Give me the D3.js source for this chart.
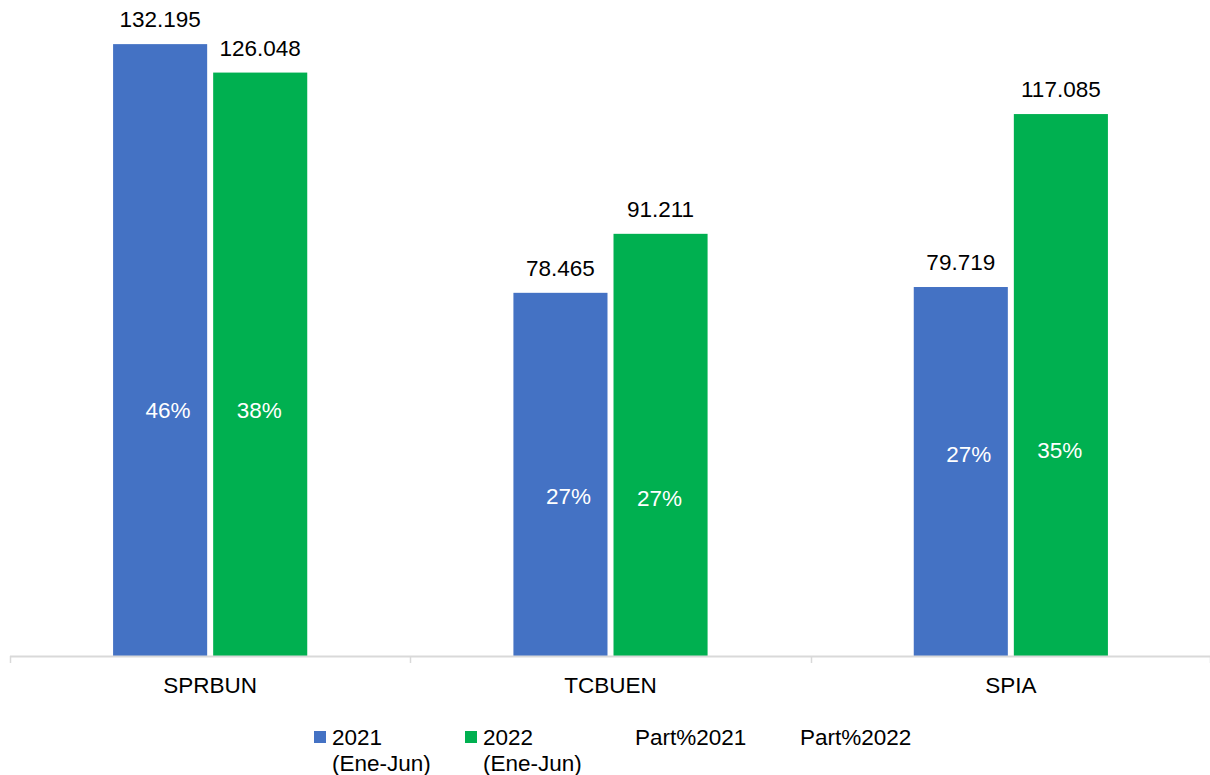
<!DOCTYPE html>
<html lang="es">
<head>
    <meta charset="UTF-8">
    <title>Participación por programa</title>
    <script src="https://d3js.org/d3.v7.min.js"></script>
    <style>
        body { margin: 0; background: #fff; }
        text { font-family: "Liberation Sans", Arial, sans-serif; }
    </style>
</head>
<body>
<div id="grafico"></div>

<script>
  // DATOS //
  var categorias = ["SPRBUN", "TCBUEN", "SPIA"];
  var series = ["2021 (Ene-Jun)", "2022 (Ene-Jun)"];
  var valores2021 = [132195, 78465, 79719];
  var valores2022 = [126048, 91211, 117085];
  // participacion % (serie oculta: etiqueta y altura donde se lee en el grafico)
  var part2021 = [0.46, 0.27, 0.27];
  var part2022 = [0.38, 0.27, 0.35];
  var altPart2021 = [53150, 34500, 43600];
  var altPart2022 = [53150, 34100, 44400];
  var leyenda = ["2021\n(Ene-Jun)", "2022\n(Ene-Jun)", "Part%2021", "Part%2022"];

  var colores = ["#4472C4", "#00B050"];

  // DIMENSIONES //
  var ancho = 1210, alto = 775;
  var area = {izq: 10, der: 1211, arriba: 8, abajo: 656};

  var svg = d3.select("#grafico")
    .append("svg")
      .attr("width", ancho)
      .attr("height", alto);

  var es = d3.formatLocale({decimal: ",", thousands: ".", grouping: [3], currency: ["$", ""]});
  var fmtNum = es.format(",");
  var fmtPct = d3.format(".0%");

  // ESCALAS //
  var x0 = d3.scaleBand()
    .domain(categorias)
    .range([area.izq, area.der]);

  var bw = x0.bandwidth();
  var margenGrupo = bw * 0.2575;
  var x1 = d3.scaleBand()
    .domain(series)
    .range([margenGrupo, bw - margenGrupo])
    .paddingInner(0.06);

  var y = d3.scaleLinear()
    .domain([0, 140000])
    .range([area.abajo, area.arriba]);

  var filas = categorias.map(function(c, i) {
    return [
      {cat: c, serie: series[0], v: valores2021[i], part: part2021[i], alt: altPart2021[i], k: 0},
      {cat: c, serie: series[1], v: valores2022[i], part: part2022[i], alt: altPart2022[i], k: 1}
    ];
  });

  // BARRAS //
  var grupos = svg.selectAll(".grupo")
    .data(filas)
    .enter().append("g")
      .attr("class", "grupo")
      .attr("transform", function(d) { return "translate(" + x0(d[0].cat) + ",0)"; });

  grupos.selectAll("rect")
    .data(function(d) { return d; })
    .enter().append("rect")
      .attr("x", function(d) { return x1(d.serie); })
      .attr("y", function(d) { return y(d.v); })
      .attr("width", x1.bandwidth())
      .attr("height", function(d) { return y(0) - y(d.v); })
      .attr("fill", function(d) { return colores[d.k]; });

  // etiquetas de valor
  grupos.selectAll(".valor")
    .data(function(d) { return d; })
    .enter().append("text")
      .attr("class", "valor")
      .attr("x", function(d) { return x1(d.serie) + x1.bandwidth() / 2; })
      .attr("y", function(d) { return y(d.v) - 17; })
      .attr("text-anchor", "middle")
      .style("font-size", "22.5px")
      .attr("fill", "#000")
      .text(function(d) { return fmtNum(d.v); });

  // etiquetas de participacion
  grupos.selectAll(".part")
    .data(function(d) { return d; })
    .enter().append("text")
      .attr("class", "part")
      .attr("x", function(d) { return x1(d.serie) + x1.bandwidth() / 2 + (d.k === 0 ? 8 : -1); })
      .attr("y", function(d) { return y(d.alt); })
      .attr("dy", "0.35em")
      .attr("text-anchor", "middle")
      .style("font-size", "22.5px")
      .attr("fill", "#fff")
      .text(function(d) { return fmtPct(d.part); });

  // EJE X //
  var ejeX = svg.append("g")
    .attr("transform", "translate(0," + area.abajo + ")");

  ejeX.append("line")
    .attr("x1", area.izq).attr("x2", area.der)
    .attr("y1", 0.5).attr("y2", 0.5)
    .attr("stroke", "#D9D9D9")
    .attr("stroke-width", 2);

  var bordes = categorias.map(function(c) { return x0(c); }).concat([area.der - 1]);
  ejeX.selectAll(".tick")
    .data(bordes)
    .enter().append("line")
      .attr("x1", function(d) { return Math.round(d) + 0.5; })
      .attr("x2", function(d) { return Math.round(d) + 0.5; })
      .attr("y1", 0).attr("y2", 7)
      .attr("stroke", "#D9D9D9")
      .attr("stroke-width", 1.5);

  ejeX.selectAll(".cat")
    .data(categorias)
    .enter().append("text")
      .attr("class", "cat")
      .attr("x", function(d) { return x0(d) + bw / 2; })
      .attr("y", 37)
      .attr("text-anchor", "middle")
      .style("font-size", "22.5px")
      .attr("fill", "#000")
      .text(function(d) { return d; });

  // LEYENDA //
  var posLeyenda = [332, 483, 635, 800];
  var ley = svg.selectAll(".ley")
    .data(leyenda)
    .enter().append("g")
      .attr("class", "ley")
      .attr("transform", function(d, i) { return "translate(" + posLeyenda[i] + ",0)"; });

  ley.filter(function(d, i) { return i < 2; })
    .append("rect")
      .attr("x", -18).attr("y", 731)
      .attr("width", 12).attr("height", 12)
      .attr("fill", function(d, i) { return colores[i]; });

  ley.append("text")
    .attr("y", 744.5)
    .style("font-size", "22.5px")
    .attr("fill", "#000")
    .each(function(d) {
      var t = d3.select(this);
      d.split("\n").forEach(function(linea, j) {
        t.append("tspan")
          .attr("x", 0)
          .attr("dy", j === 0 ? 0 : 26.6)
          .text(linea);
      });
    });
</script>
</body>
</html>
